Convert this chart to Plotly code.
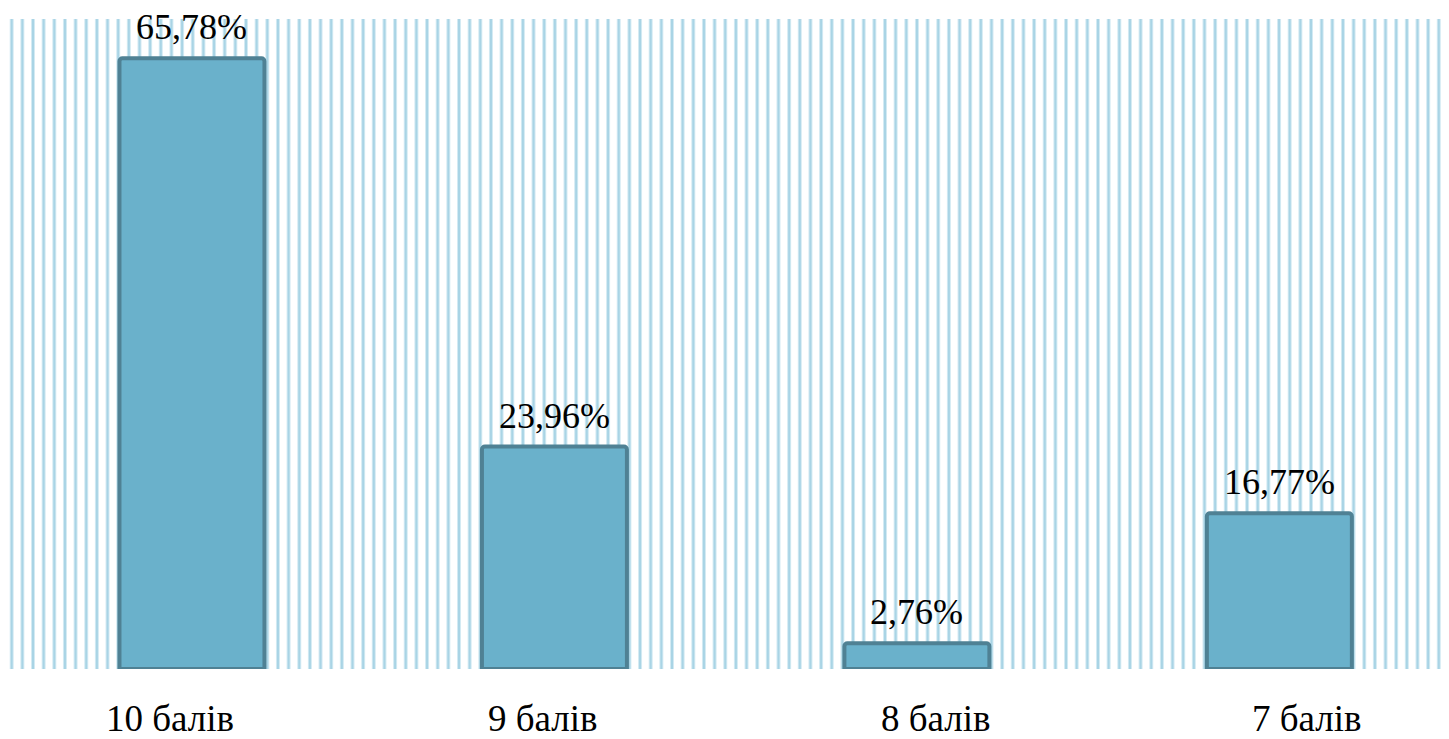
import plotly.graph_objects as go

categories = ["10 балів", "9 балів", "8 балів", "7 балів"]
values = [65.78, 23.96, 2.76, 16.77]
labels = ["65,78%", "23,96%", "2,76%", "16,77%"]

W, H = 1449, 739
ml, mr, mt, mb = 10, 0, 19, 70
cat_label_xshift = [-22, -11, 19, 28]  # label offsets as in the original layout

fig = go.Figure()
fig.add_trace(go.Bar(
    x=list(range(len(categories))), y=values,
    width=0.40,
    marker=dict(color="#6ab1cb", line=dict(color="#4f8194", width=4), cornerradius=3),
))

annotations = [
    dict(x=i, y=v, text=t, showarrow=False, xref="x", yref="y", yanchor="bottom",
         yshift=9, font=dict(family="Liberation Serif", size=36, color="black"))
    for i, (v, t) in enumerate(zip(values, labels))
]
annotations += [
    dict(x=i, y=0, text=c, showarrow=False, xref="x", yref="paper", yanchor="middle",
         yshift=-49, xshift=dx, font=dict(family="Liberation Serif", size=37, color="black"))
    for i, (c, dx) in enumerate(zip(categories, cat_label_xshift))
]

# decorative vertical stripes in the background
shapes = []
period = 10.65
x = 11.7
plot_w = W - ml - mr
while x < W:
    px = (x - ml) / plot_w
    shapes.append(dict(type="line", xref="paper", yref="paper", x0=px, x1=px, y0=0, y1=1,
                       line=dict(color="#d3eaf3", width=4), layer="below"))
    shapes.append(dict(type="line", xref="paper", yref="paper", x0=px, x1=px, y0=0, y1=1,
                       line=dict(color="#a9d4e5", width=2), layer="below"))
    x += period

fig.update_layout(
    width=W, height=H,
    margin=dict(l=ml, r=mr, t=mt, b=mb, autoexpand=False),
    paper_bgcolor="white", plot_bgcolor="white",
    showlegend=False, shapes=shapes, annotations=annotations,
    xaxis=dict(range=[-0.502, 3.468], showticklabels=False, showgrid=False, zeroline=False,
               showline=False, ticks="", automargin=False),
    yaxis=dict(range=[0, 70], visible=False, showgrid=False, zeroline=False, automargin=False),
)

fig.write_html("out.html", config={"displayModeBar": False},
               post_script="document.body.style.margin='0px';document.body.style.overflow='hidden';")
